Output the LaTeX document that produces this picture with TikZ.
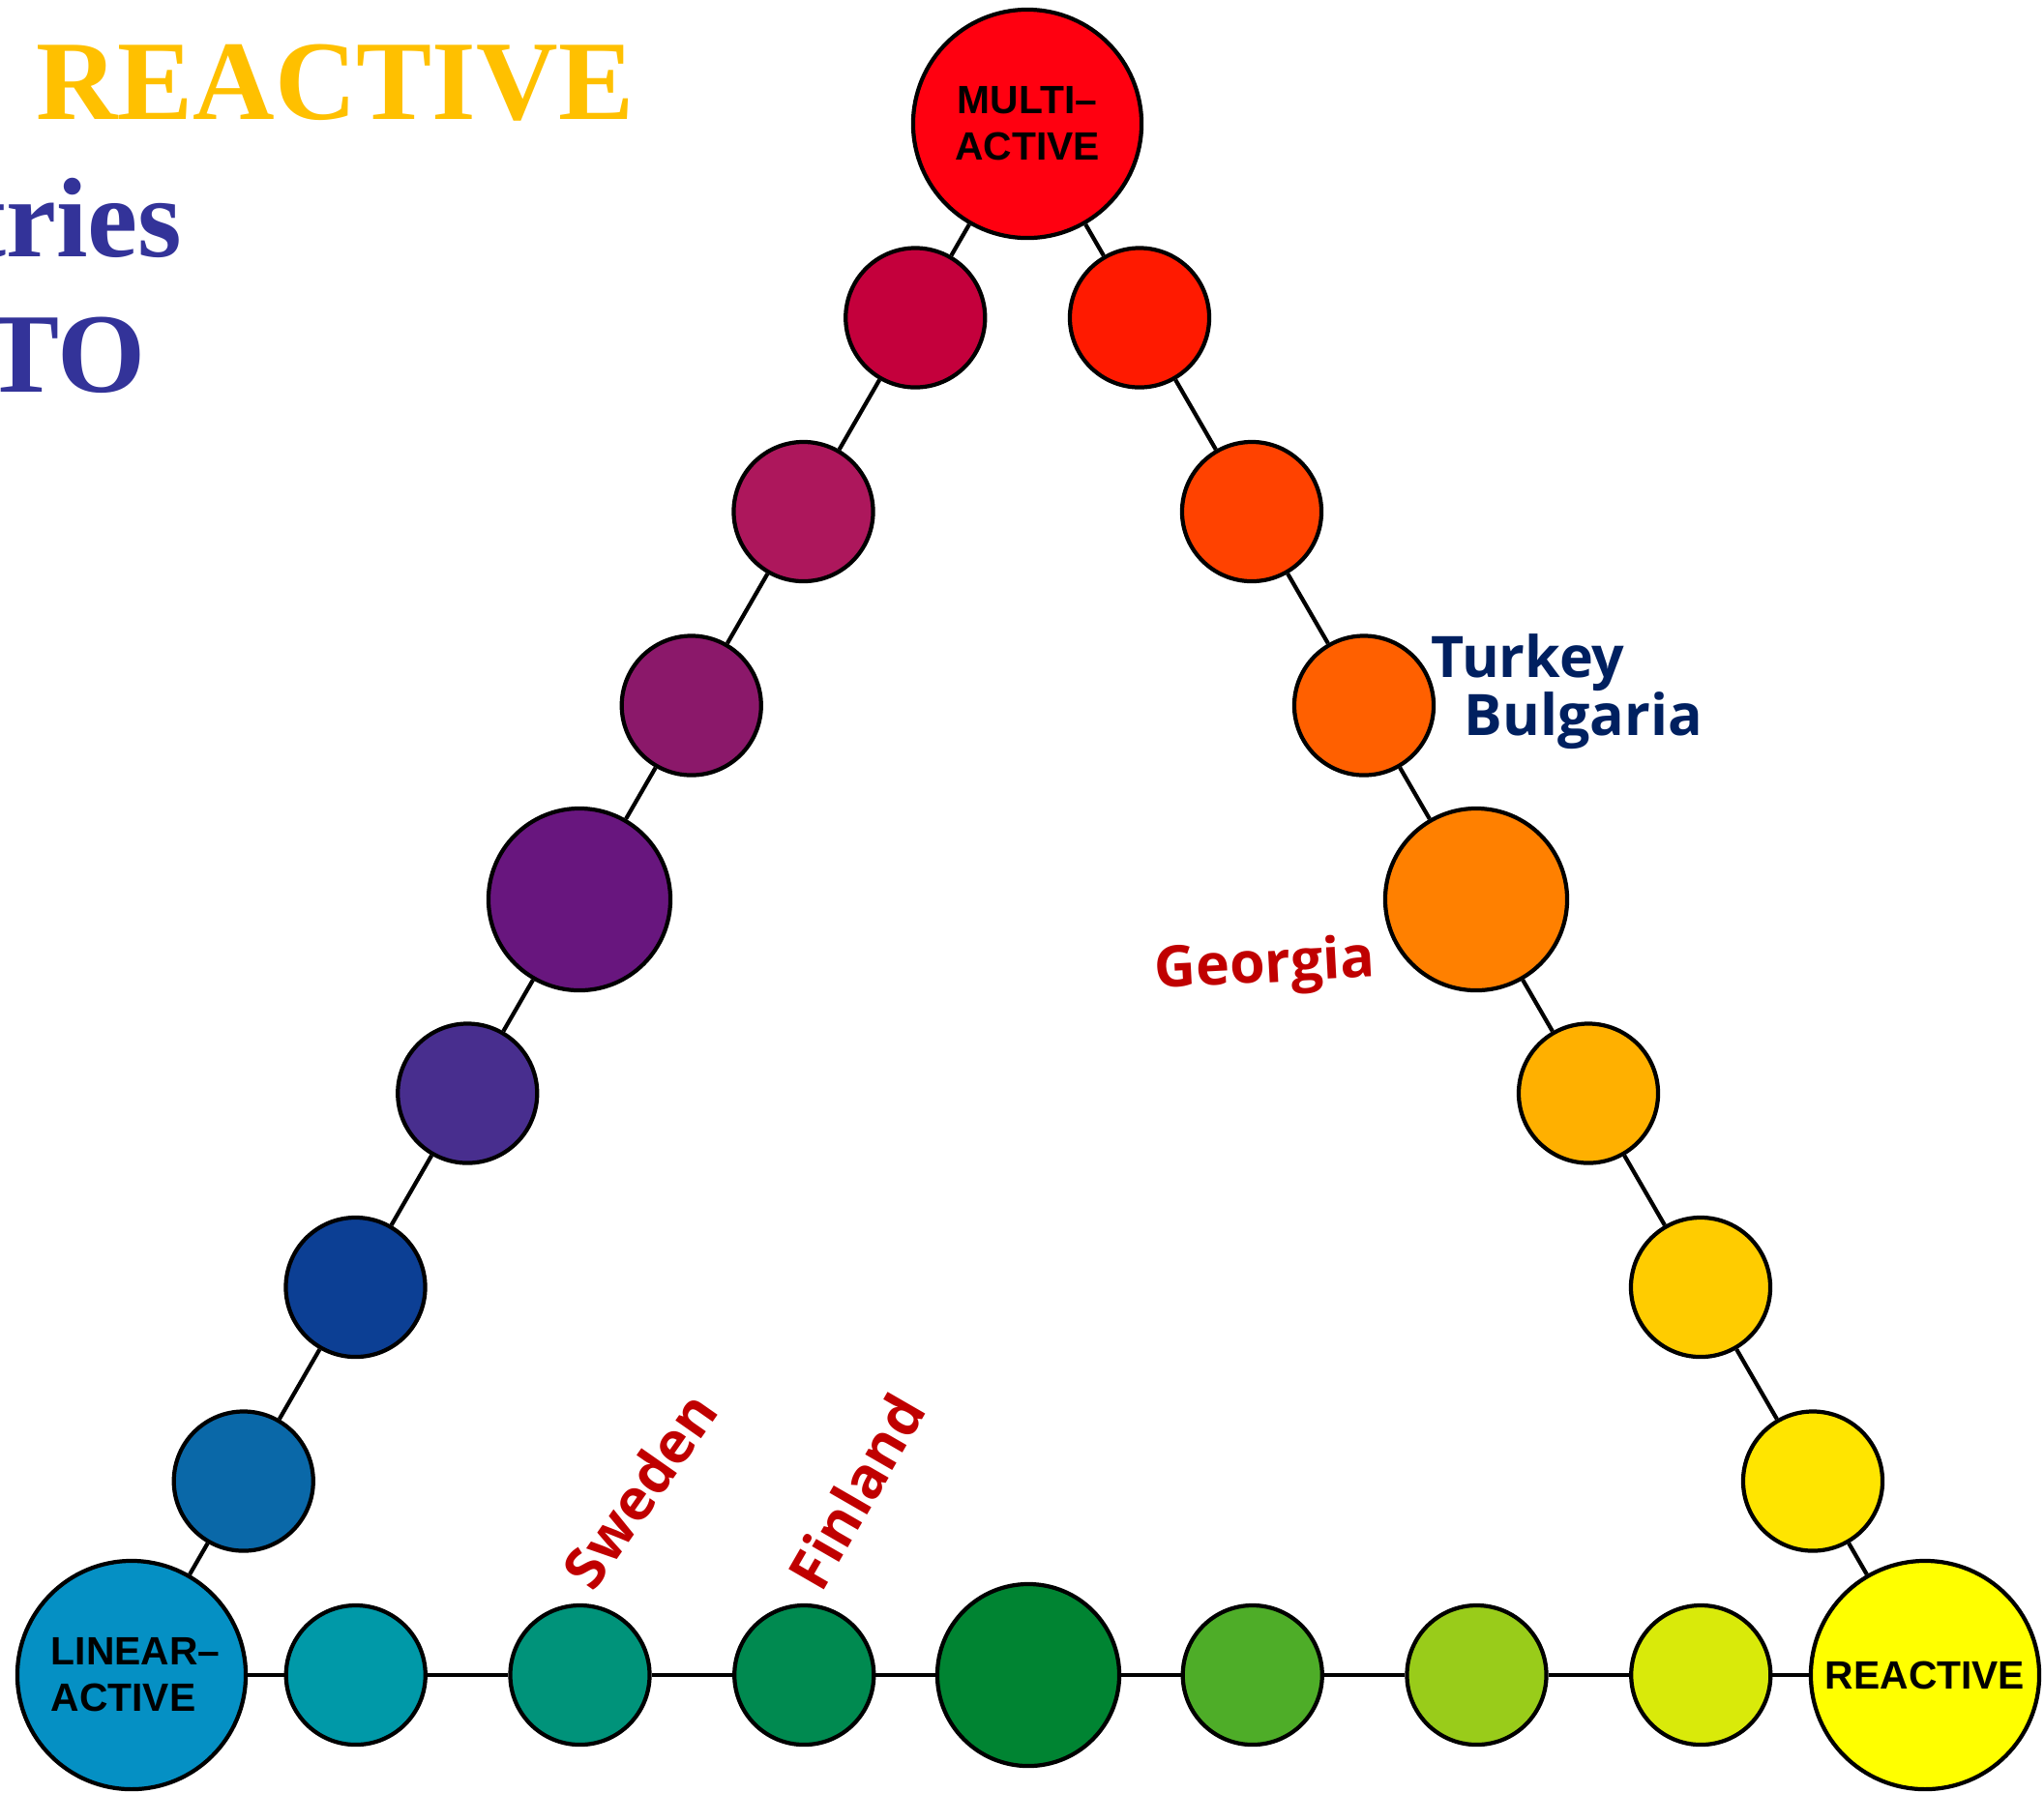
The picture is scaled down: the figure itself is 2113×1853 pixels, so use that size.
\documentclass[tikz,border=0pt]{standalone}
\usepackage{fontspec}
\usepackage{tikz}
\usetikzlibrary{positioning}
\usepackage{xcolor}

\newfontfamily\titlefont{Liberation Serif}
\newfontfamily\polefont{Liberation Sans}
\newfontfamily\tagfont{Open Sans}

\definecolor{headgold}{HTML}{FFC000}
\definecolor{headblue}{HTML}{333399}
\definecolor{tagred}{HTML}{C00000}
\definecolor{tagnavy}{HTML}{002060}
% corners
\definecolor{linblue}{HTML}{0590C4}
\definecolor{mulred}{HTML}{FF0010}
\definecolor{reayel}{HTML}{FFFF00}
% linear -> multi
\definecolor{lft1}{HTML}{0A68A8}
\definecolor{lft2}{HTML}{0C3F94}
\definecolor{lft3}{HTML}{482E8E}
\definecolor{lft4}{HTML}{68167E}
\definecolor{lft5}{HTML}{8B186A}
\definecolor{lft6}{HTML}{AD175C}
\definecolor{lft7}{HTML}{C4003C}
% multi -> reactive
\definecolor{rgt1}{HTML}{FF1A00}
\definecolor{rgt2}{HTML}{FF4200}
\definecolor{rgt3}{HTML}{FF6000}
\definecolor{rgt4}{HTML}{FF8000}
\definecolor{rgt5}{HTML}{FFB000}
\definecolor{rgt6}{HTML}{FFCC00}
\definecolor{rgt7}{HTML}{FFE500}
% linear -> reactive
\definecolor{bot1}{HTML}{0099A8}
\definecolor{bot2}{HTML}{00937A}
\definecolor{bot3}{HTML}{008A50}
\definecolor{bot4}{HTML}{008432}
\definecolor{bot5}{HTML}{4EAD28}
\definecolor{bot6}{HTML}{99CC1A}
\definecolor{bot7}{HTML}{D9EA0A}

\begin{document}
\begin{tikzpicture}[x=0.01cm,y=-0.01cm,
  dot/.style={circle,draw=black,line width=1.2pt,inner sep=0pt,minimum size=1.44cm},
  bigdot/.style={dot,minimum size=1.88cm},
  pole/.style={dot,minimum size=2.36cm,font=\polefont\bfseries\fontsize{11.6}{13.7}\selectfont},
  headline/.style={anchor=base east,inner sep=0pt,font=\titlefont\bfseries\fontsize{33.3}{40}\selectfont},
  tag/.style={inner sep=0pt,font=\tagfont\bfseries\fontsize{16.8}{20}\selectfont}]
\useasboundingbox (0,0) rectangle (2113,1853);
\clip (0,0) rectangle (2113,1853);

% heading, cut off at the left
\node[headline,headgold] (hd1) at (656,123) {REACTIVE};
\node[headline,headblue] (hd2) at (189,265) {tries};
\node[headline,headblue] (hd3) at (151,405) {TO};

% corners
\node[pole,fill=linblue,align=left] (lin) at (136,1732) {\hspace*{0.08cm}LINEAR–\\\hspace*{0.08cm}ACTIVE};
\node[pole,fill=mulred,align=center] (mul) at (1062,128) {MULTI–\\ACTIVE};
\node[pole,fill=reayel] (rea) at (1990,1732) {REACTIVE};

% left side
\node[dot,fill=lft1] (l1) at (251.75,1531.5) {};
\node[dot,fill=lft2] (l2) at (367.5,1331) {};
\node[dot,fill=lft3] (l3) at (483.25,1130.5) {};
\node[bigdot,fill=lft4] (l4) at (599,930) {};
\node[dot,fill=lft5] (l5) at (714.75,729.5) {};
\node[dot,fill=lft6] (l6) at (830.5,529) {};
\node[dot,fill=lft7] (l7) at (946.25,328.5) {};

% right side
\node[dot,fill=rgt1] (r1) at (1178,328.5) {};
\node[dot,fill=rgt2] (r2) at (1294,529) {};
\node[dot,fill=rgt3] (r3) at (1410,729.5) {};
\node[bigdot,fill=rgt4] (r4) at (1526,930) {};
\node[dot,fill=rgt5] (r5) at (1642,1130.5) {};
\node[dot,fill=rgt6] (r6) at (1758,1331) {};
\node[dot,fill=rgt7] (r7) at (1874,1531.5) {};

% bottom
\node[dot,fill=bot1] (b1) at (367.75,1732) {};
\node[dot,fill=bot2] (b2) at (599.5,1732) {};
\node[dot,fill=bot3] (b3) at (831.25,1732) {};
\node[bigdot,fill=bot4] (b4) at (1063,1732) {};
\node[dot,fill=bot5] (b5) at (1294.75,1732) {};
\node[dot,fill=bot6] (b6) at (1526.5,1732) {};
\node[dot,fill=bot7] (b7) at (1758.25,1732) {};

\draw[line width=1.2pt] (lin) -- (l1) -- (l2) -- (l3) -- (l4) -- (l5) -- (l6) -- (l7) -- (mul);
\draw[line width=1.2pt] (mul) -- (r1) -- (r2) -- (r3) -- (r4) -- (r5) -- (r6) -- (r7) -- (rea);
\draw[line width=1.2pt] (lin) -- (b1) -- (b2) -- (b3) -- (b4) -- (b5) -- (b6) -- (b7) -- (rea);

% countries
\node[tag,tagnavy,anchor=base west] (tur) at (1479,700) {Turkey};
\node[tag,tagnavy,anchor=base west] (bul) at (1513,760) {Bulgaria};
\node[tag,tagred,anchor=base west,rotate=3] (geo) at (1194,1022) {Georgia};
\node[tag,tagred,rotate=55] (swe) at (661,1541) {Sweden};
\node[tag,tagred,rotate=60] (fin) at (885,1542) {Finland};
\end{tikzpicture}
\end{document}
